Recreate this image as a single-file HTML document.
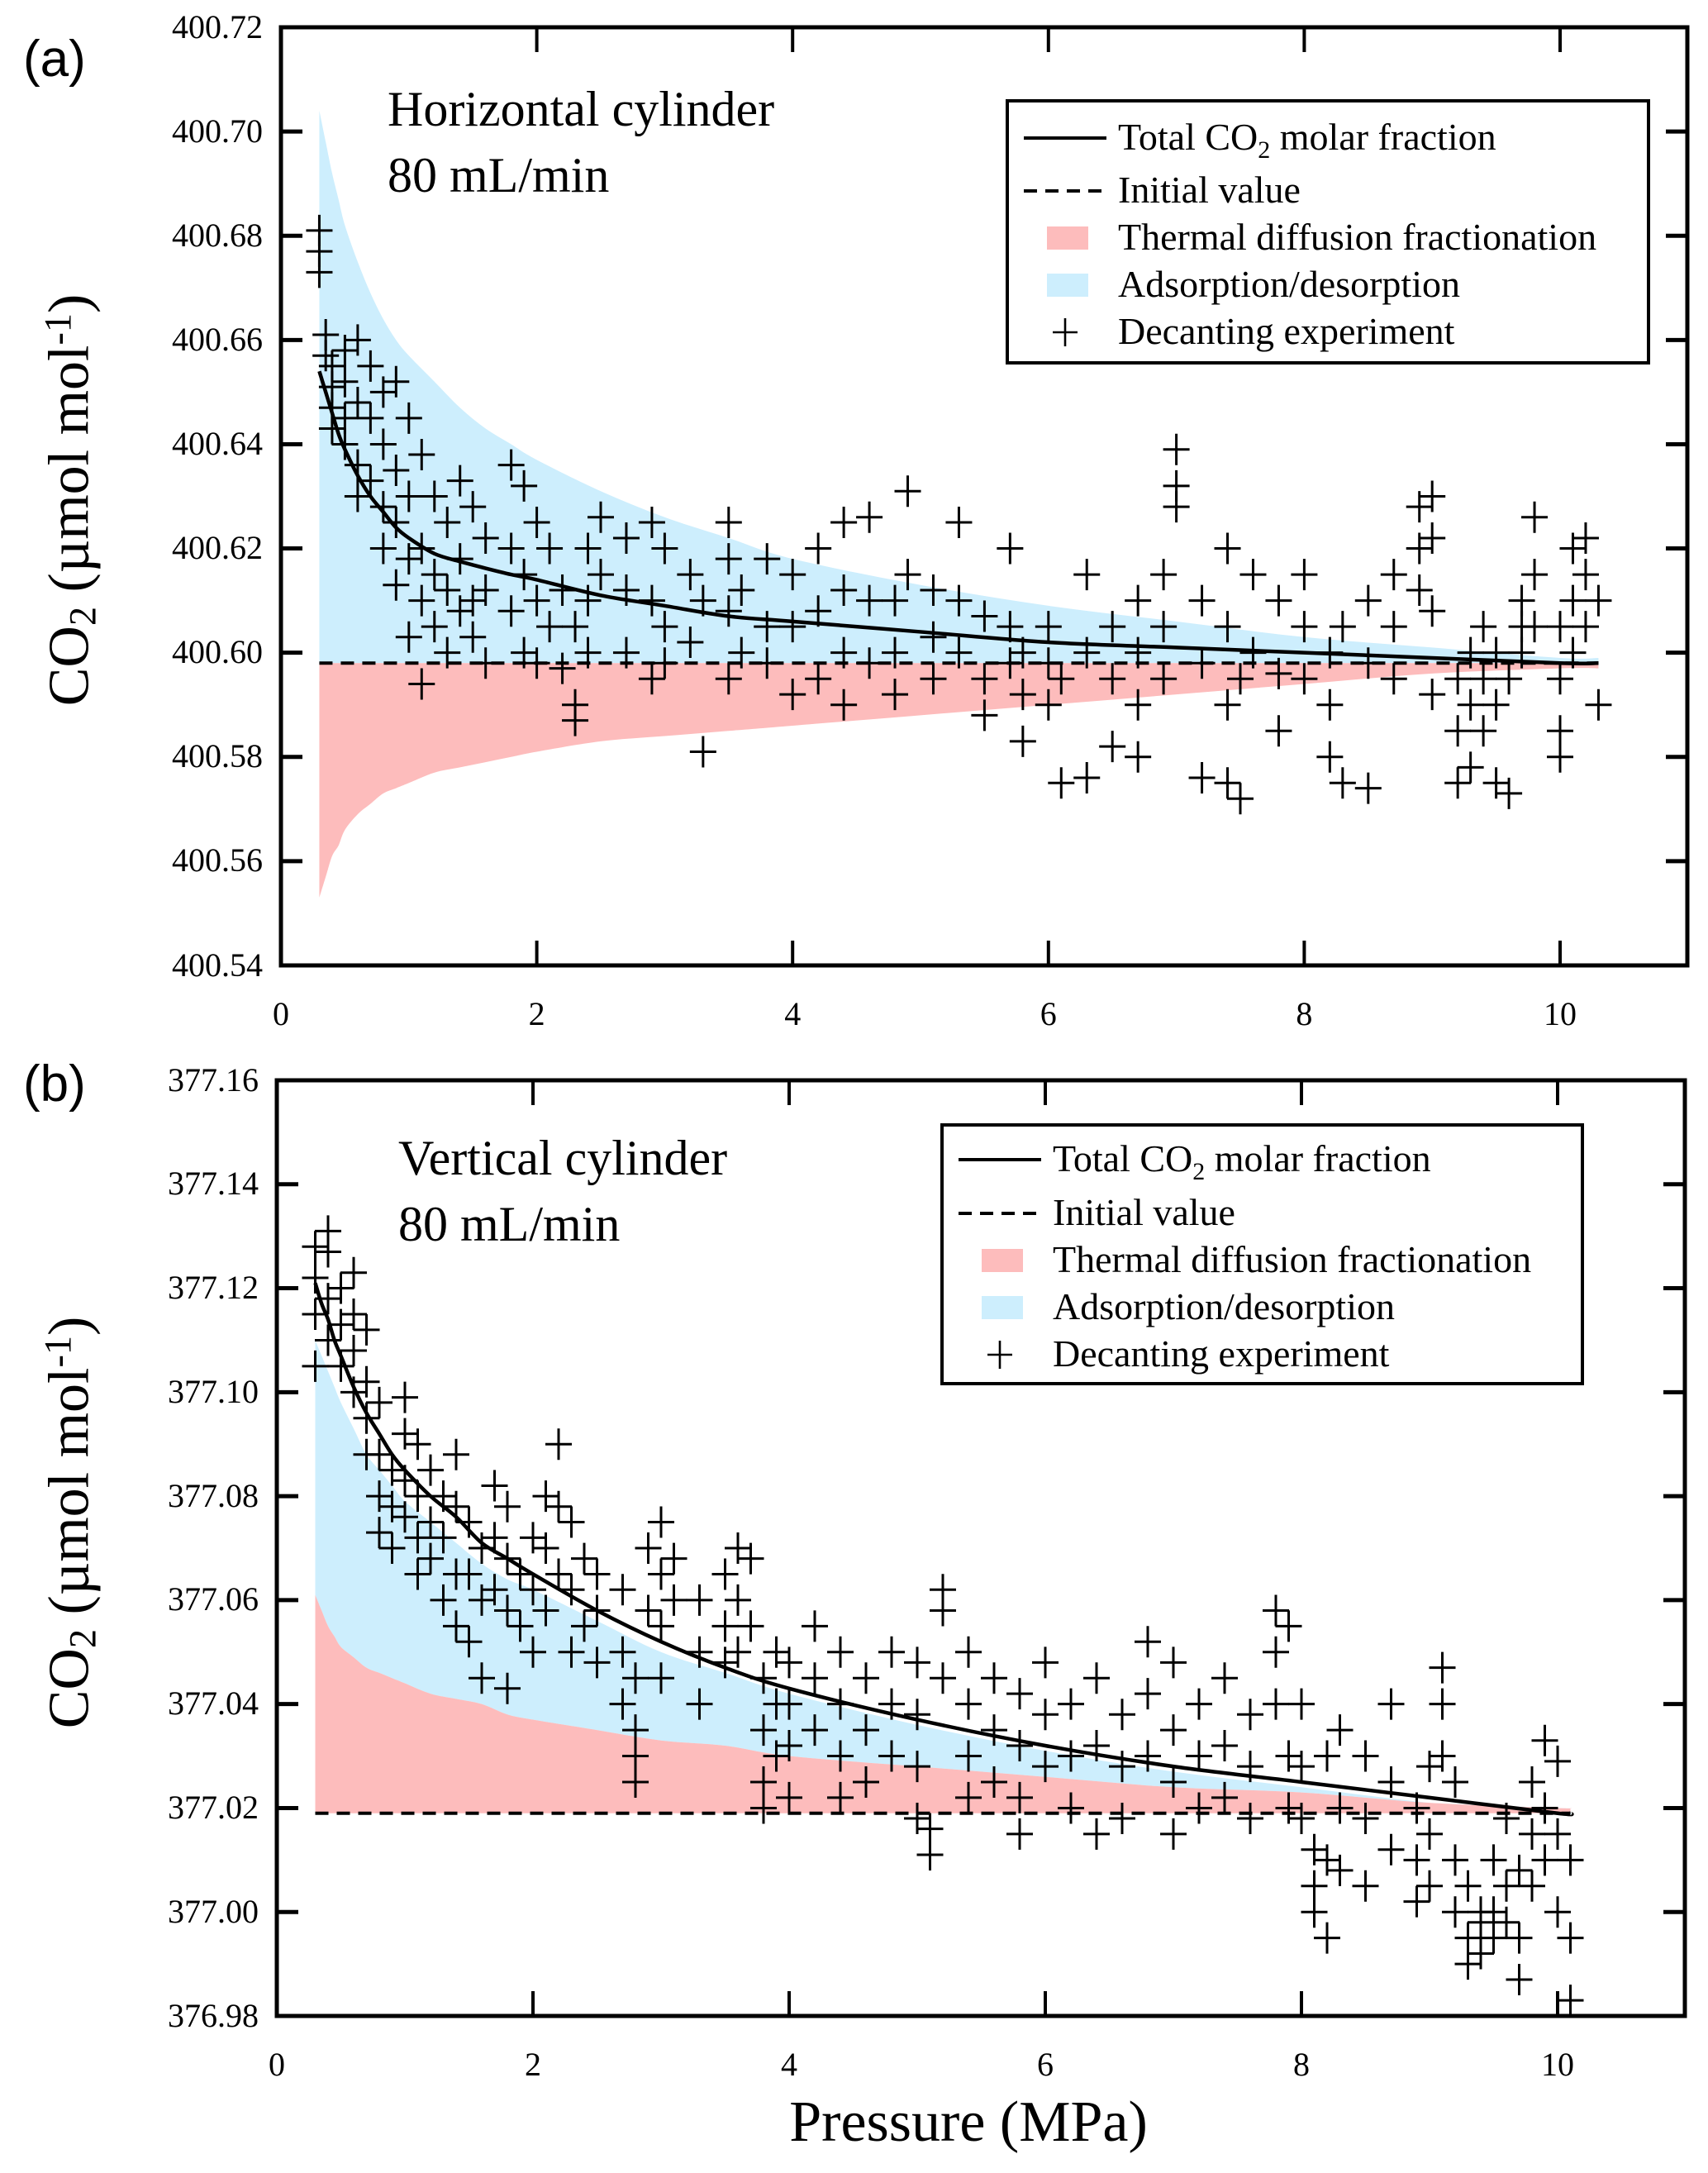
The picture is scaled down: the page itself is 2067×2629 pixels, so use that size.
<!DOCTYPE html>
<html><head><meta charset="utf-8"><style>
html,body{margin:0;padding:0;background:#fff}
body{position:relative;width:2067px;height:2629px;overflow:hidden}
svg{display:block;position:absolute;left:0;top:0}
.lbl{position:absolute;font-family:"Liberation Serif","Times New Roman",serif;line-height:1;white-space:nowrap;color:#000}
.sub{font-size:0.66em;position:relative;top:0.2em}
.sup{font-size:0.66em;position:relative;top:-0.45em}
</style></head><body>
<svg id="fig" width="2067" height="2629" viewBox="0 0 2067 2629" xmlns="http://www.w3.org/2000/svg"></svg>
<script>
// ---------- Panel (a) data ----------
const aCurveP   = [0.3,0.35,0.4,0.45,0.5,0.6,0.7,0.8,0.9,1,1.2,1.4,1.6,1.8,2,2.5,3,3.5,4,5,6,7,8,9,10,10.3];
const aTotal    = [400.654,400.650,400.646,400.642,400.639,400.634,400.630,400.627,400.624,400.622,400.619,400.6175,400.6162,400.615,400.614,400.611,400.609,400.607,400.606,400.604,400.602,400.601,400.600,400.599,400.598,400.598];
const aAdsTop   = [400.704,400.698,400.692,400.687,400.682,400.675,400.669,400.664,400.660,400.657,400.652,400.647,400.643,400.640,400.637,400.631,400.626,400.622,400.618,400.613,400.609,400.606,400.603,400.601,400.599,400.599];
const aThermBot = [400.553,400.557,400.561,400.563,400.566,400.569,400.571,400.573,400.574,400.575,400.577,400.578,400.579,400.580,400.581,400.583,400.584,400.585,400.586,400.588,400.590,400.592,400.594,400.596,400.597,400.597];
const aInitial  = 400.598;
const aPtsP = [0.3,0.35,0.4,0.5,0.6,0.7,0.8,0.9,1.0,1.1,1.2,1.3,1.4,1.5,1.6,1.8,1.9,2.0,2.1,2.2,2.3,2.4,2.5,2.7,2.9,3.0,3.2,3.3,3.5,3.6,3.8,4.0,4.2,4.4,4.6,4.8,4.9,5.1,5.3,5.5,5.7,5.8,6.0,6.1,6.3,6.5,6.7,6.9,7.0,7.2,7.4,7.5,7.6,7.8,8.0,8.2,8.3,8.5,8.7,8.9,9.0,9.2,9.3,9.4,9.5,9.6,9.7,9.8,10.0,10.1,10.2,10.3];
const aPtsV = [[.681,.677,.673],[.661,.657],[.655,.651,.647,.643],[.658,.652,.645,.640],[.660,.648,.636,.630],[.655,.645,.633],[.650,.640,.628,.620],[.652,.635,.625,.613],[.645,.630,.618,.603],[.638,.620,.610,.594],[.630,.615,.605],[.625,.612,.600],[.633,.618,.608],[.628,.610,.603],[.622,.612,.598],[.636,.620,.608],[.632,.615,.600],[.625,.610,.598],[.620,.605],[.612,.597],[.590,.587,.605],[.620,.610,.600],[.626,.615],[.622,.612,.600],[.625,.610,.595],[.620,.605,.598],[.615,.602],[.581,.610],[.625,.618,.608,.595],[.612,.600],[.618,.605,.598],[.615,.605,.592],[.620,.608,.595],[.625,.612,.600,.590],[.626,.610,.598],[.610,.600,.592],[.631,.615],[.612,.603,.595],[.625,.610,.600],[.607,.595,.588],[.620,.605,.598],[.600,.583,.592],[.605,.598,.590],[.575,.595],[.615,.600,.576],[.605,.595,.582],[.610,.600,.590,.580],[.615,.605,.595],[.639,.632,.628],[.610,.598,.576],[.620,.605,.590,.575],[.572,.595],[.615,.600],[.610,.596,.585],[.605,.595,.615],[.600,.580,.590],[.575,.605],[.610,.598,.574],[.615,.605,.595],[.628,.620,.612],[.630,.622,.608,.592],[.575,.585,.595],[.590,.600,.578],[.605,.595,.585],[.600,.575,.590],[.595,.573],[.610,.600,.605],[.626,.615,.605],[.595,.585,.580,.605],[.610,.600,.620],[.615,.605,.622],[.590,.610]];
const aBase = 400;
const aYTicks = ['400.54','400.56','400.58','400.60','400.62','400.64','400.66','400.68','400.70','400.72'];

// ---------- Panel (b) data ----------
const bCurveP   = [0.3,0.35,0.4,0.45,0.5,0.6,0.7,0.8,0.9,1,1.2,1.4,1.6,1.8,2,2.5,3,3.5,4,5,6,7,8,9,10,10.1];
const bTotal    = [377.121,377.117,377.114,377.110,377.107,377.101,377.096,377.092,377.088,377.085,377.080,377.076,377.071,377.068,377.065,377.058,377.052,377.047,377.043,377.037,377.032,377.028,377.025,377.022,377.019,377.019];
const bAdsTop   = [377.110,377.107,377.104,377.101,377.098,377.093,377.088,377.085,377.082,377.079,377.075,377.071,377.067,377.064,377.062,377.056,377.050,377.046,377.042,377.036,377.031,377.027,377.024,377.021,377.019,377.019];
const bThermTop = [377.061,377.058,377.055,377.053,377.051,377.049,377.047,377.046,377.045,377.044,377.042,377.041,377.040,377.038,377.037,377.035,377.033,377.032,377.030,377.028,377.026,377.024,377.023,377.021,377.020,377.020];
const bInitial  = 377.019;
const bPtsP = [0.3,0.4,0.5,0.6,0.7,0.8,0.9,1.0,1.1,1.2,1.3,1.4,1.5,1.6,1.7,1.8,1.9,2.0,2.1,2.2,2.3,2.4,2.5,2.7,2.8,2.9,3.0,3.1,3.3,3.5,3.6,3.7,3.8,3.9,4.0,4.2,4.4,4.6,4.8,5.0,5.1,5.2,5.4,5.6,5.8,6.0,6.2,6.4,6.6,6.8,7.0,7.2,7.4,7.6,7.8,7.9,8.0,8.1,8.2,8.3,8.5,8.7,8.9,9.0,9.1,9.2,9.3,9.4,9.5,9.6,9.7,9.8,9.9,10.0,10.1];
const bPtsV = [[.128,.122,.115,.105],[.131,.127,.118,.110],[.120,.113,.105],[.123,.115,.108,.100],[.112,.102,.095,.088],[.098,.088,.080,.073],[.085,.078,.070],[.099,.092,.083,.076],[.090,.080,.072,.065],[.085,.075,.068],[.080,.072,.060],[.088,.078,.065,.055],[.075,.065,.052],[.070,.060,.045],[.082,.072,.062],[.078,.068,.058,.043],[.065,.055],[.072,.062,.050],[.080,.070,.058],[.090,.078,.065],[.075,.062,.050],[.068,.055],[.065,.058,.048],[.062,.050,.040],[.035,.030,.025,.045],[.070,.058],[.075,.065,.055,.045],[.068,.060],[.060,.050,.040],[.065,.055,.048],[.070,.060,.050],[.068,.055],[.045,.035,.025,.020],[.050,.040,.030],[.048,.040,.032,.022],[.055,.045,.035],[.050,.040,.030,.022],[.045,.035,.025],[.050,.040,.030],[.048,.038,.028,.018],[.011,.016],[.062,.058,.045],[.050,.040,.030,.022],[.045,.035,.025],[.042,.032,.022,.015],[.048,.038,.028],[.040,.030,.020],[.045,.032,.015],[.038,.028,.018],[.052,.042,.030],[.048,.035,.025,.015],[.040,.030,.020],[.045,.032,.022],[.038,.028,.018],[.058,.050,.040],[.055,.030,.020],[.040,.028,.018],[.012,.005,.000],[.030,.010,-.005],[.035,.020,.008],[.030,.018,.005],[.040,.025,.012],[.020,.002,.010],[.028,.015,.005],[.047,.040,.030],[.025,.010,.000],[.005,-.005,-.010],[.000,-.008,-.002],[.010,.000,-.005],[.018,.005,-.002],[-.013,-.005,.008],[.025,.015,.005],[.033,.020,.010],[.029,.015,.000],[-.005,-.017,.010]];
const bBase = 377;
const bYTicks = ['376.98','377.00','377.02','377.04','377.06','377.08','377.10','377.12','377.14','377.16'];
const xTicks = ['0','2','4','6','8','10'];

const NS='http://www.w3.org/2000/svg';
const svg=document.getElementById('fig');
const SERIF='font-family:"Liberation Serif","Times New Roman",serif';
function mk(tag,attrs,parent){const e=document.createElementNS(NS,tag);for(const k in attrs)e.setAttribute(k,attrs[k]);if(tag==='text'){if(!attrs.style)e.setAttribute('style',SERIF);}(parent||svg).appendChild(e);return e;}
// HTML label: x anchor frac (0 left,0.5 center,1 right), baseline y
function hlabel(html,x,y,fs,frac){
  const d=document.createElement('div');
  d.className='lbl';
  d.style.fontSize=fs+'px';
  d.innerHTML=html;
  document.body.appendChild(d);
  const w=d.getBoundingClientRect().width;
  d.style.left=(x-w*frac)+'px';
  d.style.top=(y-0.837*fs)+'px';
  return d;
}
function smooth(pts){
  let d='M'+pts[0][0]+','+pts[0][1];
  for(let i=0;i<pts.length-1;i++){
    const p0=pts[Math.max(0,i-1)],p1=pts[i],p2=pts[i+1],p3=pts[Math.min(pts.length-1,i+2)];
    const c1=[p1[0]+(p2[0]-p0[0])/6,p1[1]+(p2[1]-p0[1])/6],c2=[p2[0]-(p3[0]-p1[0])/6,p2[1]-(p3[1]-p1[1])/6];
    d+=` C${c1[0]},${c1[1]} ${c2[0]},${c2[1]} ${p2[0]},${p2[1]}`;
  }
  return d;
}

function panel(cfg){
  const g=mk('g',{});
  
  
  const X=p=>cfg.x0+(cfg.x10-cfg.x0)*p/10;
  const Y=v=>cfg.bottom-(v-cfg.ymin)/(cfg.ymax-cfg.ymin)*(cfg.bottom-cfg.top);
  const n=cfg.curveP.length;
  const lower=cfg.thermTop?cfg.thermTop:cfg.curveP.map(()=>cfg.initial);
  const topPts=cfg.curveP.map((p,i)=>[X(p),Y(cfg.adsTop[i])]);
  const lowPts=cfg.curveP.map((p,i)=>[X(p),Y(lower[i])]).reverse();
  const blue=smooth(topPts)+' L'+smooth(lowPts).slice(1)+'Z';
  const b=mk('path',{d:blue,fill:'#cdeefd'},g);
  
  
  const thPts=cfg.curveP.map((p,i)=>[X(p),Y(cfg.therm[i])]);
  const red=smooth(thPts)+` L${X(cfg.curveP[n-1])},${Y(cfg.initial)} L${X(cfg.curveP[0])},${Y(cfg.initial)}Z`;
  const r=mk('path',{d:red,fill:'#fdbcbc'},g);
  
  
  const dl=mk('line',{x1:X(cfg.curveP[0]),x2:X(cfg.curveP[n-1]),y1:Y(cfg.initial),y2:Y(cfg.initial),stroke:'#000','stroke-width':4,'stroke-dasharray':'16,10'},g);
  
  
  const pg=mk('g',{stroke:'#000','stroke-width':3},g);
  
  
  cfg.ptsP.forEach((p,i)=>{cfg.ptsV[i].forEach(v=>{
    const cx=X(p),cy=Y(cfg.base+v);
    const m=mk('path',{d:`M${cx-16},${cy}H${cx+16}M${cx},${cy-19}V${cy+19}`},pg);
    
    
  });});
  const tc=mk('path',{d:smooth(cfg.curveP.map((p,i)=>[X(p),Y(cfg.total[i])])),fill:'none',stroke:'#000','stroke-width':4.5},g);
  
  
  const fr=mk('rect',{x:cfg.x0,y:cfg.top,width:cfg.right-cfg.x0,height:cfg.bottom-cfg.top,fill:'none',stroke:'#000','stroke-width':5},g);
  
  
  cfg.yTicks.forEach(t=>{
    const y=Y(parseFloat(t));
    mk('line',{x1:cfg.x0,x2:cfg.x0+26,y1:y,y2:y,stroke:'#000','stroke-width':5},g);
    mk('line',{x1:cfg.right,x2:cfg.right-26,y1:y,y2:y,stroke:'#000','stroke-width':5},g);
    const tx=hlabel(t,cfg.x0-22,y+13,40,1);
    
    
  });
  xTicks.forEach(t=>{
    const x=X(parseFloat(t));
    mk('line',{x1:x,x2:x,y1:cfg.bottom,y2:cfg.bottom-30,stroke:'#000','stroke-width':4},g);
    mk('line',{x1:x,x2:x,y1:cfg.top,y2:cfg.top+30,stroke:'#000','stroke-width':4},g);
    const tx=hlabel(t,x,cfg.bottom+72,40,0.5);
    
    
  });
  // rotated y title
  const yt=document.createElement('div');
  yt.className='lbl';
  
  
  yt.style.fontSize='70px';
  yt.innerHTML='CO<span class="sub">2</span> (µmol mol<span class="sup">-1</span>)';
  yt.style.left=cfg.ytx+'px';yt.style.top=cfg.yty+'px';
  yt.style.transformOrigin='0 0';
  yt.style.transform='rotate(-90deg) translate(-50%,-0.837em)';
  document.body.appendChild(yt);
  const pl=mk('text',{x:28,y:cfg.labelY,'font-size':62,style:'font-family:"Liberation Sans",sans-serif'},g);
  pl.textContent=cfg.label;
  
  
  const t1=mk('text',{x:cfg.titleX,y:cfg.titleY,'font-size':60},g);t1.textContent=cfg.title;
  
  
  const t2=mk('text',{x:cfg.titleX,y:cfg.titleY+80,'font-size':60},g);t2.textContent='80 mL/min';
  
  
  const L=cfg.leg;
  const lg=mk('g',{},g);
  
  
  mk('rect',{x:L.x,y:L.y,width:L.w,height:L.h,fill:'#fff',stroke:'#000','stroke-width':4},lg);
  const sx=L.x+20,sw=100,tx0=L.x+134;
  const rows=L.rows;
  mk('line',{x1:sx,x2:sx+sw,y1:rows[0],y2:rows[0],stroke:'#000','stroke-width':4},lg);
  mk('line',{x1:sx,x2:sx+sw,y1:rows[1],y2:rows[1],stroke:'#000','stroke-width':4,'stroke-dasharray':'16,10'},lg);
  mk('rect',{x:sx+28,y:rows[2]-14,width:50,height:28,fill:'#fdbcbc'},lg);
  mk('rect',{x:sx+28,y:rows[3]-14,width:50,height:28,fill:'#cdeefd'},lg);
  mk('path',{d:`M${sx+35},${rows[4]}h30M${sx+50},${rows[4]-17}v34`,stroke:'#000','stroke-width':2.6},lg);
  const labels=['Total CO<tspan font-size="30" dy="10">2</tspan><tspan dy="-10"> molar fraction</tspan>','Initial value','Thermal diffusion fractionation','Adsorption/desorption','Decanting experiment'];
  const names=['legend-total','legend-initial','legend-thermal','legend-adsorption','legend-decanting'];
  labels.forEach((s,i)=>{const t=mk('text',{x:tx0,y:rows[i]+14,'font-size':46},lg);t.innerHTML=s;
    
    });
}

panel({name:'panel-a',x0:340,x10:1888,right:2042,top:33,bottom:1168,ymin:400.54,ymax:400.72,
  curveP:aCurveP,total:aTotal,adsTop:aAdsTop,therm:aThermBot,initial:aInitial,
  ptsP:aPtsP,ptsV:aPtsV,base:aBase,yTicks:aYTicks,ytx:108,yty:605,label:'(a)',labelY:92,
  title:'Horizontal cylinder',titleX:469,titleY:152,
  leg:{x:1219,y:122,w:776,h:317,rows:[167,231,288,345,402]}});
panel({name:'panel-b',x0:335,x10:1885,right:2039,top:1307,bottom:2439,ymin:376.98,ymax:377.16,
  curveP:bCurveP,total:bTotal,adsTop:bAdsTop,therm:bThermTop,thermTop:bThermTop,initial:bInitial,
  ptsP:bPtsP,ptsV:bPtsV,base:bBase,yTicks:bYTicks,ytx:108,yty:1842,label:'(b)',labelY:1332,
  title:'Vertical cylinder',titleX:482,titleY:1421,
  leg:{x:1140,y:1361,w:775,h:313,rows:[1403,1468,1525,1582,1639]}});

const xt=hlabel('Pressure (MPa)',1172,2592,70,0.5);


</script>
</body></html>
